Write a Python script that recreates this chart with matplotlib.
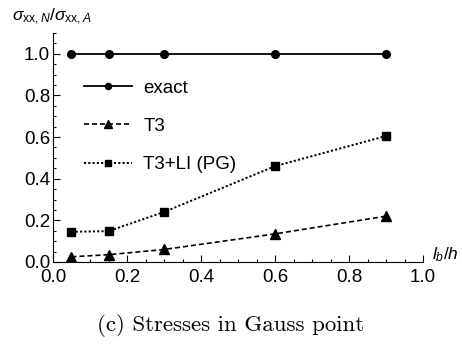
import matplotlib.pyplot as plt
from matplotlib.ticker import MultipleLocator

plt.rcParams['font.family'] = ['Liberation Sans', 'DejaVu Sans']
plt.rcParams['mathtext.fontset'] = 'custom'
plt.rcParams['mathtext.it'] = 'Liberation Sans:italic'
plt.rcParams['mathtext.rm'] = 'Liberation Sans'

lb_h = [0.05, 0.15, 0.3, 0.6, 0.9]
exact = [1.0, 1.0, 1.0, 1.0, 1.0]
t3 = [0.025, 0.035, 0.06, 0.135, 0.22]
t3_li = [0.145, 0.148, 0.24, 0.46, 0.605]

fig = plt.figure(figsize=(4.62, 3.44), dpi=100)
ax = fig.add_axes([0.1147, 0.2384, 0.801, 0.666])

ax.plot(lb_h, exact, '-', color='black', lw=1.3, marker='o', ms=5.5, label='exact')
ax.plot(lb_h, t3, '--', color='black', lw=1.2, marker='^', ms=6.5, dashes=(3, 1.8), label='T3')
ax.plot(lb_h, t3_li, ':', color='black', lw=1.4, marker='s', ms=6, dashes=(1.1, 1.1), label='T3+LI (PG)')

ax.set_xlim(0, 1.0)
ax.set_ylim(0, 1.1)
ax.xaxis.set_major_locator(MultipleLocator(0.2))
ax.xaxis.set_minor_locator(MultipleLocator(0.05))
ax.yaxis.set_major_locator(MultipleLocator(0.2))
ax.yaxis.set_minor_locator(MultipleLocator(0.05))
ax.tick_params(which='both', direction='in', labelsize=13.5, width=0.8)
ax.tick_params(axis='x', pad=5)
ax.tick_params(axis='y', pad=2)
ax.tick_params(which='major', length=5)
ax.tick_params(which='minor', length=2.5)
ax.spines['top'].set_visible(False)
ax.spines['right'].set_visible(False)

ax.legend(loc='upper left', bbox_to_anchor=(0.166, 0.79), bbox_transform=fig.transFigure,
          borderaxespad=0, frameon=False, fontsize=13.5, markerscale=0.8,
          handlelength=2.56, handletextpad=0.6, labelspacing=1.12)

fig.text(0.027, 0.94, r'$\sigma_{\mathrm{xx},N}/\sigma_{\mathrm{xx},A}$', fontsize=12.5)
fig.text(0.935, 0.245, r'$l_b/h$', fontsize=12.5)
fig.text(0.5, 0.037, '(c) Stresses in Gauss point', family='cmr10', fontsize=16.5, ha='center')

fig.savefig('out.png', dpi=100)
